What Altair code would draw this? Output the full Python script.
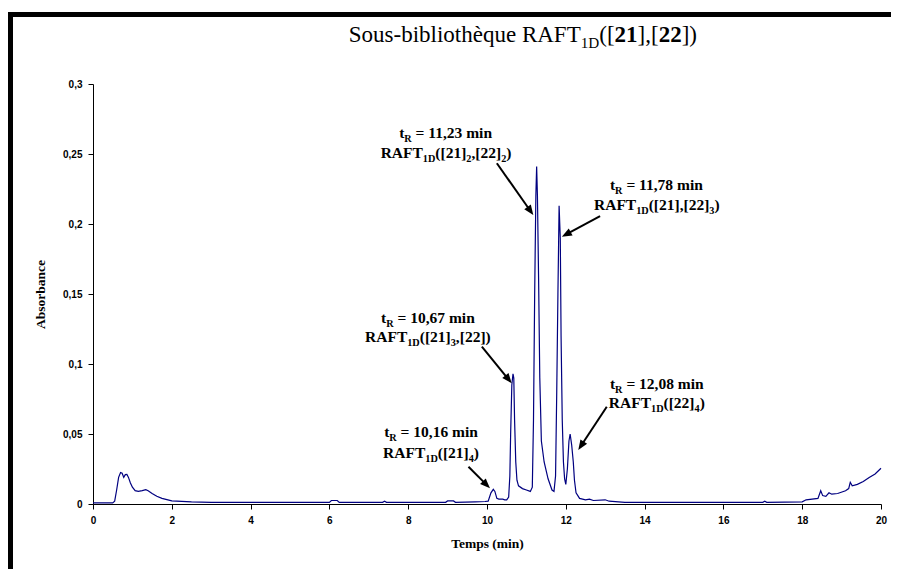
import math
import altair as alt
import pandas as pd

# ---------------- data ----------------
time_min = [0.00, 0.50, 0.55, 0.60, 0.65, 0.70, 0.74, 0.78, 0.82, 0.86, 0.90, 0.95, 1.00,
            1.07, 1.15, 1.25, 1.34, 1.40, 1.50, 1.62, 1.75, 1.90, 2.00, 2.50, 3.00, 6.00,
            6.05, 6.20, 6.25, 7.35, 7.40, 7.45, 8.95, 9.00, 9.15, 9.20, 9.70, 9.95, 10.03,
            10.10, 10.16, 10.20, 10.25, 10.30, 10.40, 10.45, 10.50, 10.55, 10.58, 10.60,
            10.63, 10.66, 10.68, 10.70, 10.73, 10.76, 10.80, 10.90, 11.00, 11.10, 11.15,
            11.18, 11.21, 11.24, 11.26, 11.28, 11.31, 11.34, 11.38, 11.45, 11.55, 11.65,
            11.70, 11.74, 11.77, 11.80, 11.83, 11.86, 11.88, 11.91, 11.94, 11.97, 12.00,
            12.04, 12.08, 12.11, 12.15, 12.19, 12.22, 12.26, 12.35, 12.50, 12.60, 12.70,
            13.00, 13.10, 13.50, 17.00, 17.05, 17.10, 18.00, 18.10, 18.40, 18.47, 18.52,
            18.60, 18.68, 18.75, 18.90, 19.10, 19.18, 19.22, 19.27, 19.40, 19.55, 19.70,
            19.85, 20.00]
absorbance = [0.0008, 0.0008, 0.002, 0.010, 0.019, 0.0225, 0.022, 0.019, 0.021, 0.0212, 0.019,
              0.015, 0.012, 0.0095, 0.009, 0.0095, 0.0102, 0.0095, 0.0075, 0.0055, 0.004,
              0.003, 0.0022, 0.0015, 0.0012, 0.0012, 0.0025, 0.0025, 0.0012, 0.0012, 0.002,
              0.0012, 0.0012, 0.0022, 0.0022, 0.0012, 0.0015, 0.0018, 0.002, 0.008, 0.0105,
              0.009, 0.004, 0.0035, 0.0035, 0.003, 0.003, 0.005, 0.020, 0.050, 0.085, 0.093,
              0.090, 0.060, 0.030, 0.017, 0.013, 0.011, 0.010, 0.009, 0.012, 0.060, 0.150,
              0.220, 0.241, 0.220, 0.160, 0.090, 0.045, 0.030, 0.018, 0.010, 0.009, 0.020,
              0.080, 0.150, 0.213, 0.190, 0.120, 0.060, 0.030, 0.018, 0.014, 0.025, 0.045,
              0.050, 0.042, 0.030, 0.017, 0.008, 0.004, 0.003, 0.0035, 0.0025, 0.003, 0.002,
              0.0012, 0.0012, 0.002, 0.0012, 0.0015, 0.003, 0.004, 0.0095, 0.006, 0.0055,
              0.008, 0.007, 0.0075, 0.0095, 0.011, 0.0155, 0.013, 0.014, 0.016, 0.019,
              0.0215, 0.0255]

x_ticks = list(range(0, 21, 2))
y_ticks = [0, 0.05, 0.1, 0.15, 0.2, 0.25, 0.3]

# annotation texts
ann_tr = ["11,23", "11,78", "10,67", "10,16", "12,08"]
ann_compound = [
    [("RAFT", 0), ("1D", 1), ("([21]", 0), ("2", 1), (",[22]", 0), ("2", 1), (")", 0)],
    [("RAFT", 0), ("1D", 1), ("([21],[22]", 0), ("3", 1), (")", 0)],
    [("RAFT", 0), ("1D", 1), ("([21]", 0), ("3", 1), (",[22])", 0)],
    [("RAFT", 0), ("1D", 1), ("([21]", 0), ("4", 1), (")", 0)],
    [("RAFT", 0), ("1D", 1), ("([22]", 0), ("4", 1), (")", 0)],
]
# annotation anchors (data units): centre time, baseline of line 1 and line 2
ann_t = [8.96, 14.31, 8.50, 8.58, 14.31]
ann_a1 = [0.2614, 0.2243, 0.1295, 0.0476, 0.0821]
ann_a2 = [0.2471, 0.2100, 0.1159, 0.0331, 0.0686]
# arrows (data units): start -> tip
arrow_t1 = [10.25, 12.87, 9.87, 9.53, 13.04]
arrow_a1 = [0.2434, 0.2057, 0.1124, 0.0266, 0.0695]
arrow_t2 = [11.175, 11.90, 10.627, 10.076, 12.317]
arrow_a2 = [0.2064, 0.1909, 0.0862, 0.0112, 0.0386]

title_segments = [("Sous-bibliothèque RAFT", 0, 0), ("1D", 1, 0), ("([", 0, 0), ("21", 0, 1),
                  ("],[", 0, 0), ("22", 0, 1), ("])", 0, 0)]
title_t, title_a = 10.91, 0.3300

# ---------------- layout helpers ----------------
W, H = 788, 420
X_DOM, Y_DOM = [0, 20], [0, 0.3]
PX_X = W / (X_DOM[1] - X_DOM[0])
PX_Y = H / (Y_DOM[1] - Y_DOM[0])
PAD = {"left": 85, "top": 76, "right": 10, "bottom": 65}

BOLD_W = {' ': 250, '(': 333, ')': 333, ',': 250, '-': 333, '=': 570, '[': 333, ']': 333,
          'A': 722, 'D': 722, 'F': 611, 'R': 722, 'T': 667, 'i': 278, 'm': 833, 'n': 556,
          't': 333}
REG_W = {' ': 250, '(': 333, ')': 333, ',': 250, '-': 333, '[': 333, ']': 333, 'S': 556,
         'o': 500, 'u': 500, 's': 389, 'b': 500, 'i': 278, 'l': 278, 't': 278, 'h': 500,
         'è': 444, 'q': 500, 'e': 444, 'R': 667, 'A': 722, 'F': 556, 'T': 611, 'D': 722}


def text_w(s, size, bold):
    tab = BOLD_W if bold else REG_W
    return sum(tab.get(c, 500) for c in s) * size / 1000.0


def build_line(ct, ba, segs, size, sub_ratio, sub_drop):
    """segs: (text, is_sub, is_bold)"""
    ws = []
    for text, sub, bold in segs:
        fs = size * sub_ratio if sub else size
        ws.append(text_w(text, fs, bold))
    x = -sum(ws) / 2.0
    rows = []
    for (text, sub, bold), w in zip(segs, ws):
        fs = size * sub_ratio if sub else size
        stripped = text.lstrip(' ')
        lead = text_w(text[:len(text) - len(stripped)], fs, bold)
        rows.append(dict(t=ct + (x + lead) / PX_X,
                         A=ba - (sub_drop if sub else 0) / PX_Y,
                         text=stripped, size=fs, bold=bold))
        x += w
    return rows


rows = []
ANN_SIZE = 15.5
for i in range(len(ann_tr)):
    l1 = [("t", 0, 1), ("R", 1, 1), (" = " + ann_tr[i] + " min", 0, 1)]
    l2 = [(s, sub, 1) for s, sub in ann_compound[i]]
    rows += build_line(ann_t[i], ann_a1[i], l1, ANN_SIZE, 0.66, 4)
    rows += build_line(ann_t[i], ann_a2[i], l2, ANN_SIZE, 0.66, 4)
rows += build_line(title_t, title_a, title_segments, 23, 0.66, 5.5)
text_df = pd.DataFrame(rows)

# arrows
HEAD = 8.0
arr_rows, head_rows = [], []
for t1, a1, t2, a2 in zip(arrow_t1, arrow_a1, arrow_t2, arrow_a2):
    dxp = (t2 - t1) * PX_X
    dyp = -(a2 - a1) * PX_Y
    L = math.hypot(dxp, dyp)
    ux, uy = dxp / L, dyp / L
    ang = math.degrees(math.atan2(dxp, -dyp)) % 360
    arr_rows.append(dict(t=t1, A=a1, t2=t2 - ux * HEAD / PX_X, A2=a2 + uy * HEAD / PX_Y))
    head_rows.append(dict(t=t2, A=a2, angle=ang))
arr_df = pd.DataFrame(arr_rows)
head_df = pd.DataFrame(head_rows)

curve = pd.DataFrame({"t": time_min, "A": absorbance})

xs = alt.Scale(domain=X_DOM, nice=False, zero=False)
ys = alt.Scale(domain=Y_DOM, nice=False)

x_axis = alt.Axis(values=x_ticks, format="d", title="Temps (min)", grid=False,
                  labelFont="Liberation Sans", labelFontWeight="bold", labelFontSize=10,
                  labelColor="black", labelFlush=False, labelOverlap=False,
                  tickColor="black", domainColor="black", tickSize=5, labelPadding=6,
                  titleFont="Liberation Serif", titleFontWeight="bold", titleFontSize=13.5,
                  titleColor="black", titlePadding=11)
y_axis = alt.Axis(values=y_ticks, labelExpr="replace(format(datum.value, '.2~f'), '.', ',')",
                  title="Absorbance", grid=False,
                  labelFont="Liberation Sans", labelFontWeight="bold", labelFontSize=10,
                  labelColor="black", labelFlush=False, labelOverlap=False,
                  tickColor="black", domainColor="black", tickSize=5, labelPadding=6,
                  titleFont="Liberation Serif", titleFontWeight="bold", titleFontSize=13.5,
                  titleColor="black", titlePadding=15)

line = alt.Chart(curve).mark_line(color="#000080", strokeWidth=1.2).encode(
    x=alt.X("t:Q", scale=xs, axis=x_axis),
    y=alt.Y("A:Q", scale=ys, axis=y_axis),
)

arrows = alt.Chart(arr_df).mark_rule(color="black", strokeWidth=2).encode(
    x=alt.X("t:Q", scale=xs), y=alt.Y("A:Q", scale=ys), x2="t2:Q", y2="A2:Q")

heads = alt.Chart(head_df).mark_point(
    shape="M0,0L-0.8,2L0.8,2Z", filled=True, color="black", size=100, opacity=1,
    strokeWidth=0).encode(
    x=alt.X("t:Q", scale=xs), y=alt.Y("A:Q", scale=ys),
    angle=alt.Angle("angle:Q", scale=None))

txt_bold = alt.Chart(text_df[text_df.bold == 1]).mark_text(
    align="left", baseline="alphabetic", font="Liberation Serif", fontWeight="bold",
    color="black").encode(
    x=alt.X("t:Q", scale=xs), y=alt.Y("A:Q", scale=ys), text="text:N",
    size=alt.Size("size:Q", scale=None))

txt_reg = alt.Chart(text_df[text_df.bold == 0]).mark_text(
    align="left", baseline="alphabetic", font="Liberation Serif", fontWeight="normal",
    color="black").encode(
    x=alt.X("t:Q", scale=xs), y=alt.Y("A:Q", scale=ys), text="text:N",
    size=alt.Size("size:Q", scale=None))

one = alt.Data(values=[{"k": 1}])
frame_left = alt.Chart(one).mark_rule(color="black", strokeWidth=5).encode(
    x=alt.value(-PAD["left"] + 2.5), y=alt.value(-72), y2=alt.value(H + PAD["bottom"]))
frame_top = alt.Chart(one).mark_rule(color="black", strokeWidth=5).encode(
    x=alt.value(-PAD["left"]), x2=alt.value(W + PAD["right"]), y=alt.value(-69.5))

chart = alt.layer(line, arrows, heads, txt_bold, txt_reg, frame_left, frame_top).properties(
    width=W, height=H,
    autosize=alt.AutoSizeParams(type="none"),
    padding=PAD,
    background="white",
).configure_view(stroke=None)

chart.save("out.html", embed_options={"renderer": "svg", "actions": False})
